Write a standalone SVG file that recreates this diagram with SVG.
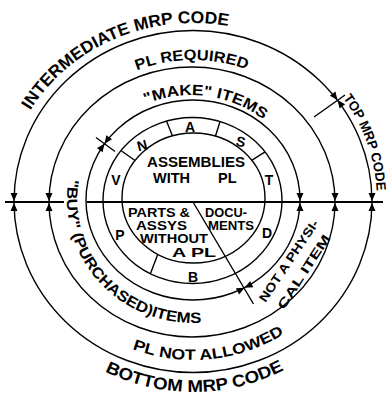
<svg xmlns="http://www.w3.org/2000/svg" xmlns:xlink="http://www.w3.org/1999/xlink" width="389" height="399" viewBox="0 0 389 399">
<style>
.ln{fill:none;stroke:#000;stroke-width:1.4}
.hl{fill:none;stroke:#000;stroke-width:1.8}
.t{font-family:"Liberation Sans",Arial,sans-serif;font-weight:bold;fill:#000}
.c{text-anchor:middle}
</style>
<defs>
<path id="ah" d="M0,0 L-8,-3.5 L-8,3.5 Z" fill="#000"/>
<path id="p-inter" d="M 28,114 A 189 178 0 0 1 232.3,26.9"/>
<path id="p-top" d="M 342.4,97.2 A 184 176 0 0 1 376.7,191.8"/>
<path id="p-bottom" d="M 101.4,369.6 A 195 191 0 0 0 287.5,368"/>
<path id="p-plreq" d="M 134.4,71.3 A 150 142 0 0 1 249.2,70.3"/>
<path id="p-plnot" d="M 128.5,347.4 A 165 158 0 0 0 287.6,331.4"/>
<path id="p-make" d="M 143,105 A 113 104 0 0 1 265.6,121.3"/>
<path id="p-buy" d="M 69.3,176.5 A 126 123 0 0 0 204,322.5"/>
</defs>
<rect width="389" height="399" fill="#fff"/>

<g id="circles">
<ellipse class="ln" cx="193" cy="201.5" rx="179" ry="171"/>
<ellipse class="ln" cx="192" cy="202" rx="143" ry="135"/>
<ellipse class="ln" cx="193" cy="200" rx="107" ry="100"/>
<ellipse class="ln" cx="192.5" cy="200.5" rx="89.5" ry="83"/>
<ellipse class="ln" cx="193.5" cy="198" rx="71.5" ry="65"/>
</g>

<g id="ring-dividers">
<line class="ln" x1="166.5" y1="121" x2="172.5" y2="136"/>
<line class="ln" x1="220" y1="121.5" x2="215.5" y2="136"/>
<line class="ln" x1="121.5" y1="151" x2="135" y2="160.5"/>
<line class="ln" x1="251.7" y1="160.3" x2="265" y2="151.8"/>
<line class="ln" x1="157.5" y1="255" x2="150.5" y2="273.5"/>
</g>

<g id="connectors">
<line class="hl" x1="5" y1="202" x2="64" y2="202"/>
<line class="hl" x1="87" y1="202" x2="383" y2="202"/>
<line class="ln" x1="193" y1="202" x2="253.5" y2="304"/>
<line class="ln" x1="314" y1="117" x2="345" y2="95"/>
<line class="ln" x1="96" y1="137.5" x2="115" y2="151.5"/>
<use xlink:href="#ah" transform="translate(14,201) rotate(90)"/>
<use xlink:href="#ah" transform="translate(14,203) rotate(-90)"/>
<use xlink:href="#ah" transform="translate(49,201) rotate(90)"/>
<use xlink:href="#ah" transform="translate(49,203) rotate(-90)"/>
<use xlink:href="#ah" transform="translate(300,201) rotate(90)"/>
<use xlink:href="#ah" transform="translate(300,203) rotate(-90)"/>
<use xlink:href="#ah" transform="translate(335,201) rotate(90)"/>
<use xlink:href="#ah" transform="translate(335,203) rotate(-90)"/>
<use xlink:href="#ah" transform="translate(372,201) rotate(90)"/>
<use xlink:href="#ah" transform="translate(372,203) rotate(-90)"/>
<use xlink:href="#ah" transform="translate(337.5,100) rotate(52.6)"/>
<use xlink:href="#ah" transform="translate(337.5,100) rotate(232.6)"/>
<use xlink:href="#ah" transform="translate(104.5,143.7) rotate(-54)"/>
<use xlink:href="#ah" transform="translate(104.5,143.7) rotate(126)"/>
<use xlink:href="#ah" transform="translate(244.6,287.7) rotate(152.8)"/>
<use xlink:href="#ah" transform="translate(244.6,287.7) rotate(-27.2)"/>
</g>

<g id="outer-labels" class="t">
<text font-size="17" class="c"><textPath xlink:href="#p-inter" startOffset="50%" textLength="228" lengthAdjust="spacingAndGlyphs">INTERMEDIATE MRP CODE</textPath></text>
<text font-size="13.5" class="c"><textPath xlink:href="#p-top" startOffset="50%" textLength="100" lengthAdjust="spacingAndGlyphs">TOP MRP CODE</textPath></text>
<text font-size="17" class="c"><textPath xlink:href="#p-bottom" startOffset="50%" textLength="186" lengthAdjust="spacingAndGlyphs">BOTTOM MRP CODE</textPath></text>
<text font-size="15" class="c"><textPath xlink:href="#p-plreq" startOffset="50%" textLength="112" lengthAdjust="spacingAndGlyphs">PL REQUIRED</textPath></text>
<text font-size="15" class="c"><textPath xlink:href="#p-plnot" startOffset="50%" textLength="158" lengthAdjust="spacingAndGlyphs">PL NOT ALLOWED</textPath></text>
<text font-size="15" class="c"><textPath xlink:href="#p-make" startOffset="50%" textLength="124" lengthAdjust="spacingAndGlyphs">"MAKE" ITEMS</textPath></text>
<text font-size="15" class="c"><textPath xlink:href="#p-buy" startOffset="50%" textLength="225" lengthAdjust="spacingAndGlyphs">"BUY" (PURCHASED)ITEMS</textPath></text>
<text font-size="12.5" class="c" dominant-baseline="central" transform="translate(289,261) rotate(-56)" textLength="96" lengthAdjust="spacingAndGlyphs">NOT A PHYSI-</text>
<text font-size="12.5" class="c" dominant-baseline="central" transform="translate(304,272) rotate(-57)" textLength="86" lengthAdjust="spacingAndGlyphs">CAL ITEM</text>
</g>

<g id="ring-letters" class="t c" font-size="14">
<text x="190" y="132">A</text>
<text x="142" y="150.5" transform="rotate(-15 142 145)">N</text>
<text x="241" y="146.5" transform="rotate(12 241 141)">S</text>
<text x="116" y="185">V</text>
<text x="269" y="185">T</text>
<text x="120" y="240">P</text>
<text x="267" y="238">D</text>
<text x="193" y="282">B</text>
</g>

<g id="node-assemblies" class="t" font-size="14">
<text x="147" y="167" textLength="98" lengthAdjust="spacingAndGlyphs">ASSEMBLIES</text>
<text x="153" y="183" font-size="14.5">WITH <tspan x="218">PL</tspan></text>
</g>

<g id="node-parts" class="t" font-size="12">
<text x="128" y="216.5" textLength="62" lengthAdjust="spacingAndGlyphs">PARTS &amp;</text>
<text x="136" y="229.5" textLength="51" lengthAdjust="spacingAndGlyphs">ASSYS</text>
<text x="140" y="242.5" textLength="68" lengthAdjust="spacingAndGlyphs">WITHOUT</text>
<text x="172" y="256.5" textLength="44" lengthAdjust="spacingAndGlyphs">A PL</text>
</g>

<g id="node-documents" class="t" font-size="12">
<text x="205" y="216.5" textLength="42" lengthAdjust="spacingAndGlyphs">DOCU-</text>
<text x="208" y="229.5" textLength="46" lengthAdjust="spacingAndGlyphs">MENTS</text>
</g>
</svg>
